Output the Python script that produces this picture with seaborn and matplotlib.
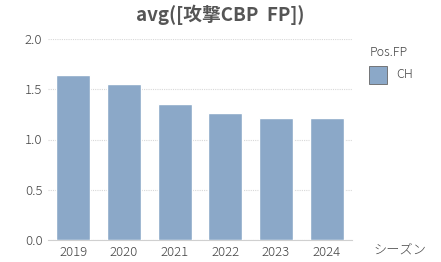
import matplotlib
matplotlib.use("Agg")
import matplotlib.pyplot as plt
import seaborn as sns
import pandas as pd

seasons = ["2019", "2020", "2021", "2022", "2023", "2024"]
values = [1.64, 1.55, 1.35, 1.26, 1.21, 1.21]
pos_fp = ["CH"] * 6
yticks = [0.0, 0.5, 1.0, 1.5, 2.0]

sns.set_theme(style="white")
plt.rcParams['font.family'] = ['Noto Sans CJK JP', 'DejaVu Sans']

df = pd.DataFrame({"シーズン": seasons, "value": values, "Pos.FP": pos_fp})

fig = plt.figure(figsize=(4.41, 2.62), dpi=100)
ax = fig.add_axes([48/441, 1-240/262, (352-48)/441, (240-39)/262])
bar_color = "#8BA8C8"
sns.barplot(data=df, x="シーズン", y="value", color=bar_color, width=0.67, ax=ax,
            saturation=1, zorder=3)
ax.set_xlim(-0.5, 5.5)
ax.set_ylim(0, 2.0)
ax.set_yticks(yticks)
ax.set_yticklabels([f"{v:.1f}" for v in yticks])
ax.grid(axis="y", color="#d8d8d8", linestyle=(0, (1, 1)), linewidth=0.8, zorder=0)
for s in ["top", "right", "left"]:
    ax.spines[s].set_visible(False)
ax.spines["bottom"].set_color("#d0d0d0")
ax.spines["bottom"].set_linewidth(0.8)
ax.tick_params(axis="both", length=0, labelsize=9.5, colors="#444444", pad=4)
for lab in ax.get_xticklabels() + ax.get_yticklabels():
    lab.set_fontweight("light")
ax.set_xlabel("")
ax.set_ylabel("")

fig.text(220/441, 1-15/262, "avg([攻撃CBP  FP])", ha="center", va="center",
         fontsize=13.5, fontweight="bold", color="#555555")
fig.text(400/441, 1-250/262, "シーズン", ha="center", va="center", fontsize=9.5, color="#444444",
         fontweight="light")
fig.text(389/441, 1-52/262, "Pos.FP", ha="center", va="center", fontsize=9, color="#444444",
         fontweight="light")
fig.patches.append(plt.Rectangle((369/441, 1-84/262), 18/441, 18/262, transform=fig.transFigure,
                                 facecolor=bar_color, edgecolor="#666666", linewidth=0.6))
fig.text(396/441, 1-75/262, "CH", ha="left", va="center", fontsize=9, color="#444444",
         fontweight="light")

fig.savefig("out.png", dpi=100)
